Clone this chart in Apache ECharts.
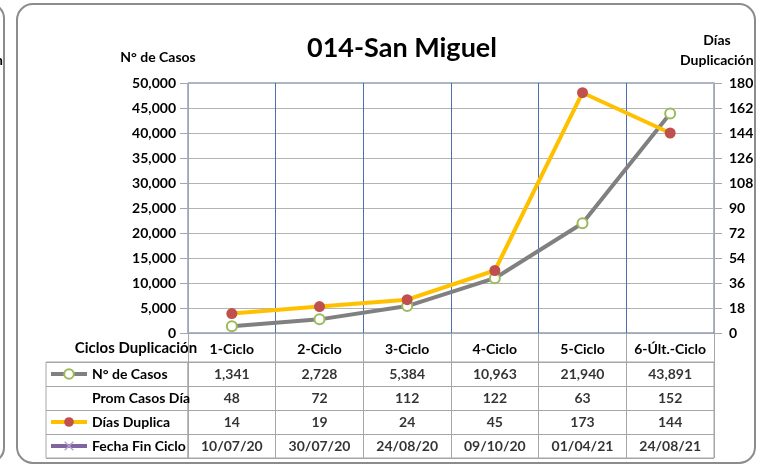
<!DOCTYPE html>
<html>
<head>
<meta charset="utf-8">
<script src="https://cdn.jsdelivr.net/npm/echarts@6/dist/echarts.min.js"></script>
<style>
  html, body { margin: 0; padding: 0; background: #fff; }
  #chart { width: 759px; height: 467px; }
</style>
</head>
<body>
<div id="chart"></div>
<script>
// Data
const ciclos = ['1-Ciclo', '2-Ciclo', '3-Ciclo', '4-Ciclo', '5-Ciclo', '6-Últ.-Ciclo'];
const casos = [1341, 2728, 5384, 10963, 21940, 43891];
const promCasosDia = [48, 72, 112, 122, 63, 152];
const diasDuplica = [14, 19, 24, 45, 173, 144];
const fechaFinCiclo = ['10/07/20', '30/07/20', '24/08/20', '09/10/20', '01/04/21', '24/08/21'];
const rowNames = ['N° de Casos', 'Prom Casos Día', 'Días Duplica', 'Fecha Fin Ciclo'];

const FONT = 'Lato, "Noto Sans", sans-serif';
const GRID_GRAY = '#B4B4B4';
const AXIS_GRAY = '#A6A6A6';
const BLUE = '#4A6EB0';

const fmt = (v) => v.toLocaleString('en-US');

// Table cells, drawn as labels on a category x category grid
const tableRows = [casos.map(fmt), promCasosDia.map(String), diasDuplica.map(String), fechaFinCiclo];
const cells = [];
tableRows.forEach((row, r) => {
  row.forEach((txt, c) => cells.push({ value: [c, r], txt }));
});

const xSymbol = 'path://M0,1L1,0L5,4L9,0L10,1L6,5L10,9L9,10L5,6L1,10L0,9L4,5Z';

const chart = echarts.init(document.getElementById('chart'));

chart.setOption({
  animation: false,
  textStyle: { fontFamily: FONT },
  grid: [
    // main plot
    { left: 188, right: 45, top: 83, height: 250, show: true, borderColor: BLUE, borderWidth: 1 },
    // value cells of the data table
    { left: 188, right: 45, top: 362, height: 96, show: true, borderColor: AXIS_GRAY, borderWidth: 1 },
    // row header cells of the data table
    { left: 46, width: 142, top: 362, height: 96, show: true, borderColor: AXIS_GRAY, borderWidth: 1 },
  ],
  xAxis: [
    {
      type: 'category',
      gridIndex: 0,
      data: ciclos,
      boundaryGap: true,
      axisLine: { lineStyle: { color: AXIS_GRAY } },
      axisTick: { show: true, length: 29, interval: 0, lineStyle: { color: AXIS_GRAY } },
      axisLabel: { interval: 0, margin: 9, color: '#000', fontWeight: 'bold', fontSize: 14, fontFamily: FONT },
      splitLine: { show: true, interval: 0, lineStyle: { color: BLUE, width: 1 } },
    },
    {
      type: 'category',
      gridIndex: 1,
      data: ciclos,
      axisLine: { show: false },
      axisTick: { show: false },
      axisLabel: { show: false },
      splitLine: { show: true, interval: 0, lineStyle: { color: AXIS_GRAY } },
    },
    {
      type: 'category',
      gridIndex: 2,
      data: [''],
      axisLine: { show: false },
      axisTick: { show: false },
      axisLabel: { show: false },
      splitLine: { show: false },
    },
  ],
  yAxis: [
    {
      type: 'value',
      gridIndex: 0,
      min: 0,
      max: 50000,
      interval: 5000,
      axisLine: { show: true, lineStyle: { color: AXIS_GRAY } },
      axisTick: { show: true, length: 8, lineStyle: { color: AXIS_GRAY } },
      axisLabel: { margin: 12, color: '#000', fontWeight: 'bold', fontSize: 14, fontFamily: FONT, formatter: fmt },
      splitLine: { show: true, lineStyle: { color: GRID_GRAY } },
    },
    {
      type: 'value',
      gridIndex: 0,
      position: 'right',
      min: 0,
      max: 180,
      interval: 18,
      axisLine: { show: true, lineStyle: { color: AXIS_GRAY } },
      axisTick: { show: true, length: 8, lineStyle: { color: AXIS_GRAY } },
      axisLabel: { margin: 15, color: '#000', fontWeight: 'bold', fontSize: 14, fontFamily: FONT },
      splitLine: { show: false },
    },
    {
      type: 'category',
      gridIndex: 1,
      inverse: true,
      data: rowNames,
      axisLine: { show: false },
      axisTick: { show: false },
      axisLabel: { show: false },
      splitLine: { show: true, interval: 0, lineStyle: { color: AXIS_GRAY } },
    },
    {
      type: 'category',
      gridIndex: 2,
      inverse: true,
      data: rowNames,
      axisLine: { show: false },
      axisTick: { show: false },
      axisLabel: { show: false },
      splitLine: { show: true, interval: 0, lineStyle: { color: AXIS_GRAY } },
    },
  ],
  legend: {
    orient: 'vertical',
    left: 49,
    top: 366,
    padding: 0,
    itemWidth: 36,
    itemHeight: 12,
    itemGap: 8,
    selectedMode: false,
    textStyle: { color: '#000', fontWeight: 'bold', fontSize: 14, fontFamily: FONT, lineHeight: 16 },
    data: [
      { name: 'N° de Casos', lineStyle: { width: 4, color: '#808080' } },
      { name: 'Prom Casos Día', itemStyle: { opacity: 0 }, lineStyle: { opacity: 0 } },
      { name: 'Días Duplica', lineStyle: { width: 4, color: '#FFC000' } },
      { name: 'Fecha Fin Ciclo', lineStyle: { width: 4, color: '#8064A2' } },
    ],
  },
  series: [
    {
      name: 'N° de Casos',
      type: 'line',
      xAxisIndex: 0,
      yAxisIndex: 0,
      data: casos,
      symbol: 'circle',
      symbolSize: 10,
      lineStyle: { color: '#808080', width: 4 },
      itemStyle: { color: '#fff', borderColor: '#9BBB59', borderWidth: 2 },
      z: 3,
    },
    {
      name: 'Prom Casos Día',
      type: 'line',
      xAxisIndex: 0,
      yAxisIndex: 0,
      data: [],
      symbol: 'none',
      lineStyle: { opacity: 0 },
    },
    {
      name: 'Días Duplica',
      type: 'line',
      xAxisIndex: 0,
      yAxisIndex: 1,
      data: diasDuplica,
      symbol: 'circle',
      symbolSize: 11,
      lineStyle: { color: '#FFC000', width: 4 },
      itemStyle: { color: '#C0504D', borderWidth: 0 },
      z: 4,
    },
    {
      name: 'Fecha Fin Ciclo',
      type: 'line',
      xAxisIndex: 0,
      yAxisIndex: 0,
      data: [],
      symbol: xSymbol,
      symbolSize: 9,
      lineStyle: { color: '#8064A2', width: 4 },
      itemStyle: { color: '#B3A2C7' },
    },
    {
      name: 'tabla',
      type: 'scatter',
      xAxisIndex: 1,
      yAxisIndex: 2,
      data: cells,
      symbolSize: 0,
      silent: true,
      label: {
        show: true,
        position: 'inside',
        formatter: (p) => p.data.txt,
        color: '#000',
        fontWeight: 'bold',
        fontSize: 14,
        fontFamily: FONT,
      },
    },
  ],
  graphic: [
    // neighbouring chart frame, cut off at the left edge
    { type: 'rect', shape: { x: -200, y: 4, width: 204, height: 458, r: 14 }, style: { fill: 'none', stroke: '#8C8C8C', lineWidth: 2 }, silent: true },
    { type: 'text', style: { x: 3, y: 60, text: 'Duplicación', textAlign: 'right', textVerticalAlign: 'middle', font: 'bold 14px ' + FONT, fill: '#000' }, silent: true },
    // chart frame
    { type: 'rect', shape: { x: 17, y: 4, width: 738, height: 459, r: 16 }, style: { fill: 'none', stroke: '#8C8C8C', lineWidth: 2 }, silent: true },
    { type: 'text', style: { x: 402, y: 48, text: '014-San Miguel', textAlign: 'center', textVerticalAlign: 'middle', font: 'bold 27px ' + FONT, fill: '#000' }, silent: true },
    { type: 'text', style: { x: 158, y: 57, text: 'N° de Casos', textAlign: 'center', textVerticalAlign: 'middle', font: 'bold 14px ' + FONT, fill: '#000' }, silent: true },
    { type: 'text', style: { x: 717, y: 40, text: 'Días', textAlign: 'center', textVerticalAlign: 'middle', font: 'bold 14px ' + FONT, fill: '#000' }, silent: true },
    { type: 'text', style: { x: 680, y: 60, text: 'Duplicación', textAlign: 'left', textVerticalAlign: 'middle', font: 'bold 14px ' + FONT, fill: '#000' }, silent: true },
    { type: 'text', style: { x: 136, y: 348, text: 'Ciclos Duplicación', textAlign: 'center', textVerticalAlign: 'middle', font: 'bold 15px ' + FONT, fill: '#000' }, silent: true },
  ],
});
</script>
</body>
</html>
